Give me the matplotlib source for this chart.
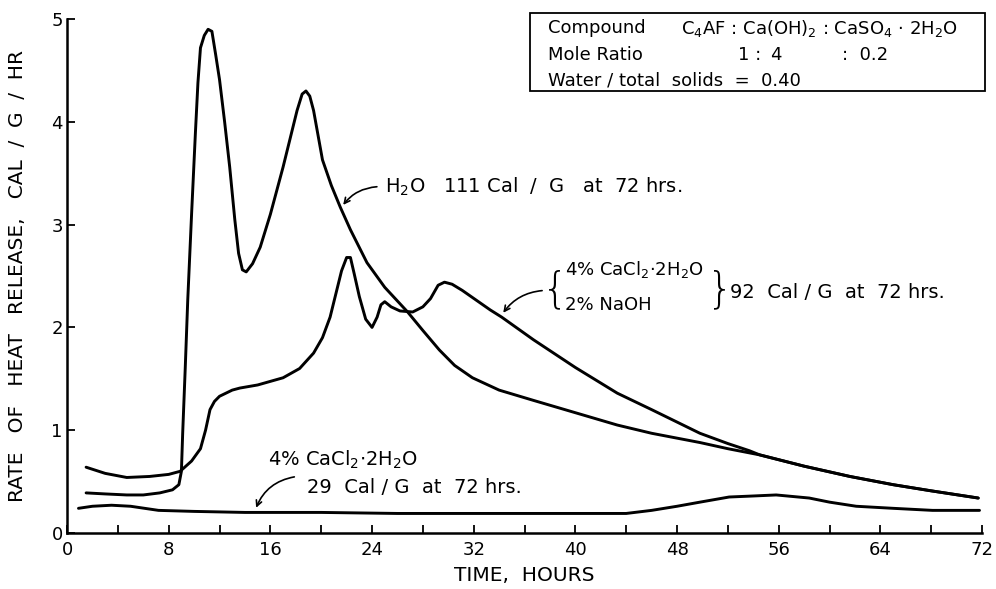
import numpy as np
import matplotlib.pyplot as plt
from matplotlib.patches import Rectangle

plt.rcParams['font.family'] = ['DejaVu Sans']
plt.rcParams['mathtext.default'] = 'regular'

# H2O only
h2o_t = [1.5, 3.0, 4.7, 6.0, 7.3, 8.3, 8.8, 9.0, 9.1, 9.3, 9.5, 9.8, 10.1, 10.3, 10.5,
         10.8, 11.1, 11.4, 11.7, 12.0, 12.4, 12.8, 13.2, 13.5, 13.8, 14.1, 14.6, 15.2,
         16.0, 17.0, 18.1, 18.5, 18.8, 19.1, 19.4, 20.1, 20.8, 21.5, 22.3, 23.6, 25.0,
         26.8, 28.0, 29.3, 30.5, 31.9, 34.0, 36.7, 40.0, 43.3, 46.0, 49.8, 52.0, 54.5,
         58.0, 61.6, 65.0, 68.0, 71.7]
h2o_q = [0.39, 0.38, 0.37, 0.37, 0.39, 0.42, 0.47, 0.6, 0.97, 1.6, 2.27, 3.1, 3.89, 4.38, 4.72,
         4.84, 4.9, 4.88, 4.65, 4.41, 4.0, 3.56, 3.05, 2.72, 2.56, 2.54, 2.62, 2.78,
         3.1, 3.56, 4.11, 4.27, 4.3, 4.25, 4.11, 3.63, 3.38, 3.17, 2.95, 2.63, 2.39,
         2.15, 1.97, 1.78, 1.63, 1.51, 1.39, 1.29, 1.17, 1.05, 0.97, 0.88, 0.82, 0.76,
         0.65, 0.55, 0.47, 0.41, 0.34]

# 4% CaCl2.2H2O + 2% NaOH
mix_t = [1.5, 3.0, 4.7, 6.5, 8.0, 8.9, 9.8, 10.5, 10.9, 11.25, 11.6, 12.0, 13.0, 13.6,
         15.0, 17.0, 18.3, 19.4, 20.1, 20.7, 21.2, 21.6, 22.0, 22.3, 22.6, 23.0, 23.5,
         24.0, 24.4, 24.7, 25.0, 25.5, 26.2, 27.2, 28.0, 28.6, 29.2, 29.7, 30.3, 31.1,
         33.3, 34.2, 36.7, 40.0, 43.3, 46.0, 49.8, 52.0, 53.7, 54.5, 58.0, 61.6, 65.0,
         68.0, 71.7]
mix_q = [0.64, 0.58, 0.54, 0.55, 0.57, 0.6, 0.7, 0.82, 1.0, 1.2, 1.28, 1.33, 1.39, 1.41,
         1.44, 1.51, 1.6, 1.75, 1.9, 2.1, 2.35, 2.55, 2.68, 2.68, 2.52, 2.3, 2.08,
         2.0, 2.1, 2.22, 2.25, 2.2, 2.16, 2.15, 2.2, 2.28, 2.41, 2.44, 2.42, 2.36,
         2.17, 2.1, 1.88, 1.61, 1.36, 1.2, 0.97, 0.87, 0.8, 0.76, 0.65, 0.55, 0.47,
         0.41, 0.34]

# 4% CaCl2.2H2O
cacl_t = [0.9, 2.0, 3.5, 5.0, 7.2, 10, 14, 20, 26, 32, 38, 44, 46, 48, 49.8, 52.1,
          54.0, 55.8, 58.4, 60.0, 62.1, 65.0, 68.1, 71.8]
cacl_q = [0.24, 0.26, 0.27, 0.26, 0.22, 0.21, 0.20, 0.20, 0.19, 0.19, 0.19, 0.19, 0.22,
          0.26, 0.30, 0.35, 0.36, 0.37, 0.34, 0.30, 0.26, 0.24, 0.22, 0.22]

fig = plt.figure(figsize=(9.96, 5.89), dpi=100)
ax = fig.add_axes([0.0673, 0.0951, 0.9187, 0.8726])

for t, q in [(h2o_t, h2o_q), (mix_t, mix_q), (cacl_t, cacl_q)]:
    ax.plot(t, q, color='black', lw=2.1, solid_capstyle='round', solid_joinstyle='round')

ax.set_xlim(0, 72)
ax.set_ylim(0, 5)
ax.set_xticks(np.arange(0, 73, 8))
ax.set_xticks(np.arange(4, 72, 8), minor=True)
ax.set_yticks(np.arange(0, 6, 1))
ax.tick_params(axis='both', which='both', direction='in', width=1.3, length=6,
               labelsize=13, color='black')
ax.tick_params(axis='x', pad=6)
ax.tick_params(axis='y', pad=3)
for s in ['top', 'right']:
    ax.spines[s].set_visible(False)
for s in ['left', 'bottom']:
    ax.spines[s].set_linewidth(1.8)

ax.set_xlabel('TIME,  HOURS', fontsize=14.5, labelpad=5)
fig.text(0.018, 0.531, 'RATE   OF   HEAT   RELEASE,   CAL  /  G  /  HR', rotation=90,
         fontsize=14.5, ha='center', va='center')

# info box
ax.add_patch(Rectangle((0.506, 0.860), 0.497, 0.152, transform=ax.transAxes,
                       fill=False, lw=1.3, clip_on=False))
ax.text(0.526, 0.982, 'Compound', transform=ax.transAxes, fontsize=13, va='center')
ax.text(0.671, 0.982, r'C$_4$AF : Ca(OH)$_2$ : CaSO$_4$ $\cdot$ 2H$_2$O',
        transform=ax.transAxes, fontsize=13, va='center')
ax.text(0.526, 0.930, 'Mole Ratio', transform=ax.transAxes, fontsize=13, va='center')
ax.text(0.733, 0.930, '1 :', transform=ax.transAxes, fontsize=13, va='center')
ax.text(0.768, 0.930, '4', transform=ax.transAxes, fontsize=13, va='center')
ax.text(0.847, 0.930, ':  0.2', transform=ax.transAxes, fontsize=13, va='center')
ax.text(0.526, 0.881, 'Water / total  solids  =  0.40', transform=ax.transAxes,
        fontsize=13, va='center')

arrow = dict(arrowstyle='->', color='black', lw=1.2, connectionstyle='arc3,rad=0.25')

# H2O label
ax.annotate('', xy=(21.6, 3.17), xytext=(24.6, 3.37), arrowprops=arrow)
ax.text(25.0, 3.37, r'H$_2$O   111 Cal  /  G   at  72 hrs.', fontsize=14, va='center')

# CaCl2 + NaOH label
ax.annotate('', xy=(34.2, 2.12), xytext=(37.6, 2.36), arrowprops=arrow)
ax.text(38.4, 2.37, '{', fontsize=30, va='center', ha='center', fontweight='light')
ax.text(39.2, 2.56, r'4% CaCl$_2$$\cdot$2H$_2$O', fontsize=13, va='center')
ax.text(39.2, 2.22, '2% NaOH', fontsize=13, va='center')
ax.text(51.4, 2.37, '}', fontsize=30, va='center', ha='center', fontweight='light')
ax.text(52.2, 2.34, '92  Cal / G  at  72 hrs.', fontsize=14, va='center')

# CaCl2 label
ax.annotate('', xy=(14.8, 0.22), xytext=(18.1, 0.55),
            arrowprops=dict(arrowstyle='->', color='black', lw=1.2,
                            connectionstyle='arc3,rad=0.3'))
ax.text(15.8, 0.71, r'4% CaCl$_2$$\cdot$2H$_2$O', fontsize=14, va='center')
ax.text(18.9, 0.44, '29  Cal / G  at  72 hrs.', fontsize=14, va='center')

fig.savefig('out.png', dpi=100)
